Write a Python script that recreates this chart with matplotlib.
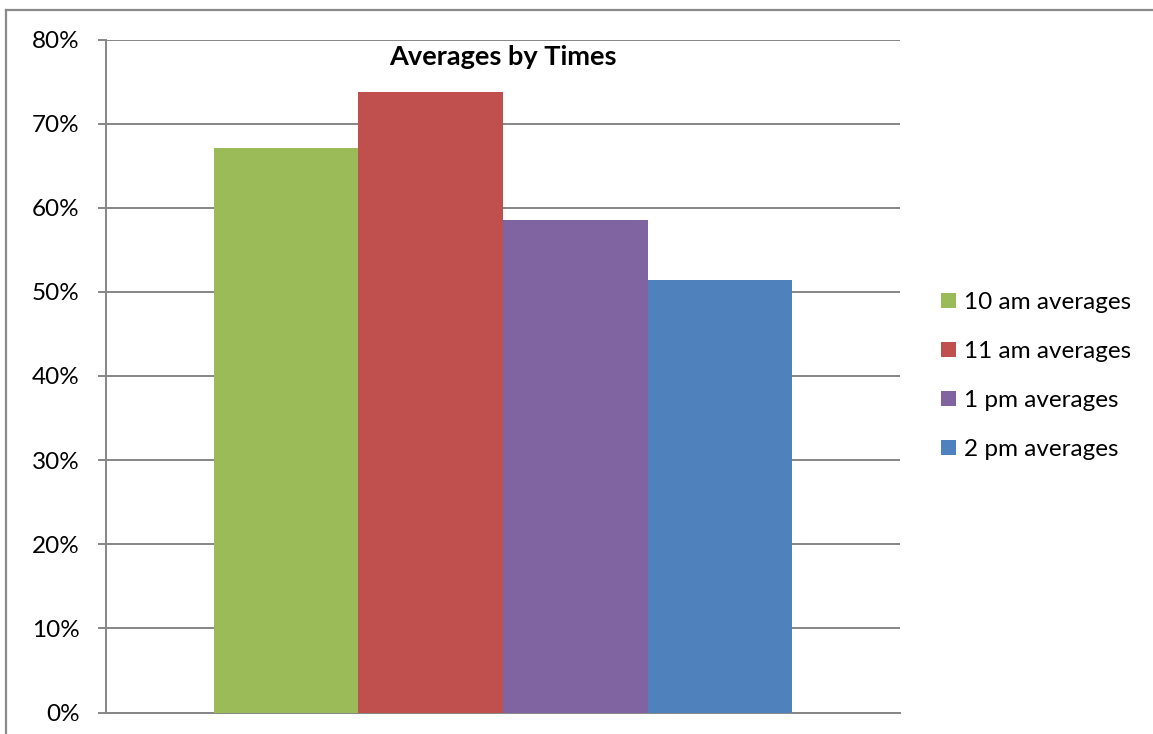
import matplotlib
matplotlib.use("Agg")
import matplotlib.pyplot as plt
from matplotlib.patches import Patch
from matplotlib.lines import Line2D
from matplotlib.ticker import FuncFormatter

series = ["10 am averages", "11 am averages", "1 pm averages", "2 pm averages"]
values = [67.1, 73.8, 58.5, 51.4]
colors = ["#9BBB59", "#C0504D", "#8064A2", "#4F81BD"]
title = "Averages by Times"
yticks = [0, 10, 20, 30, 40, 50, 60, 70, 80]

plt.rcParams['font.family'] = ['Lato', 'DejaVu Sans']

W, H = 1153, 734
fig = plt.figure(figsize=(W / 100, H / 100), dpi=100)
ax = fig.add_axes([106 / W, (H - 712.5) / H, 794 / W, 673 / H])

offsets = [-1.5, -0.5, 0.5, 1.5]
for off, v, c, s in zip(offsets, values, colors, series):
    ax.bar(off, v, width=1.0, color=c, linewidth=0, label=s, zorder=3)

ax.set_xlim(-2.747, 2.747)
ax.set_ylim(0, 80)
ax.set_yticks(yticks)
ax.yaxis.set_major_formatter(FuncFormatter(lambda v, p: f"{v:.0f}%"))
ax.set_xticks([])
grid_c = "#868686"
ax.yaxis.grid(True, color=grid_c, linewidth=1.4, zorder=0)
ax.set_axisbelow(True)
for sp in ["top", "right"]:
    ax.spines[sp].set_visible(False)
ax.spines["left"].set_color(grid_c)
ax.spines["left"].set_linewidth(1.4)
ax.spines["bottom"].set_color(grid_c)
ax.spines["bottom"].set_linewidth(1.4)
ax.tick_params(axis="y", length=6, width=1.4, color=grid_c, pad=13,
               labelsize=17.5, labelcolor="black")

fig.text(503 / W, 1 - 57 / H, title, ha="center", va="center",
         fontsize=19.5, fontweight="bold")

handles = [Patch(facecolor=c, edgecolor="none") for c in colors]
fig.legend(handles, series, loc="center left",
           bbox_to_anchor=(929 / W, 1 - 376 / H), frameon=False,
           fontsize=17.5, handlelength=0.6, handleheight=0.6,
           handletextpad=0.35, labelspacing=1.15, borderpad=0)

# outer chart border (cropped at right and bottom)
fig.add_artist(Line2D([6 / W, 6 / W], [0, 1 - 10 / H], transform=fig.transFigure,
                      color="#8a8a8a", linewidth=1.6))
fig.add_artist(Line2D([6 / W, 1], [1 - 10 / H, 1 - 10 / H], transform=fig.transFigure,
                      color="#8a8a8a", linewidth=1.6))

fig.savefig("out.png", dpi=100)
